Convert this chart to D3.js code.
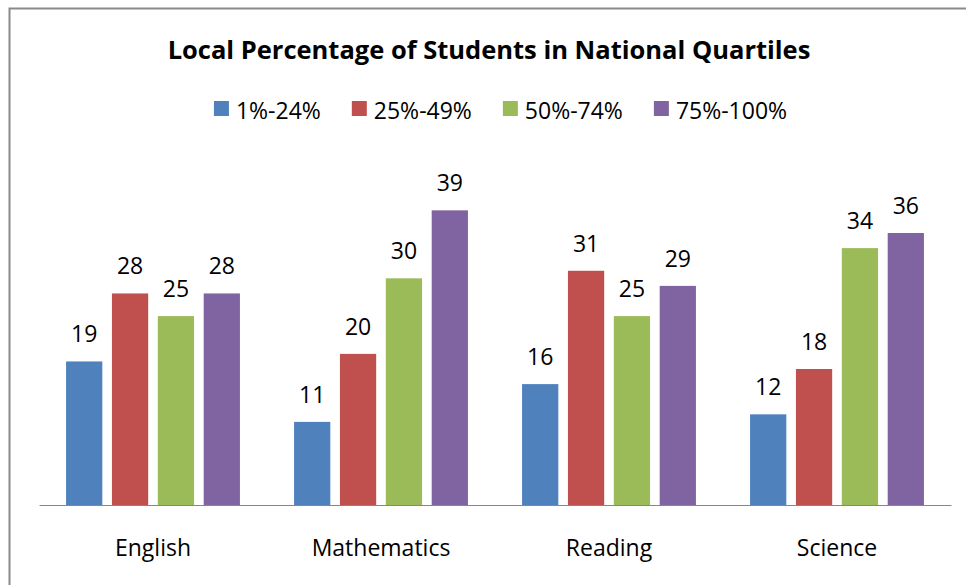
<!DOCTYPE html>
<html>
<head>
<meta charset="utf-8">
<script src="https://cdn.jsdelivr.net/npm/d3@7"></script>
<style>
  html, body { margin: 0; padding: 0; background: #fff; }
  svg { display: block; font-family: "Open Sans", "Noto Sans", sans-serif; }
</style>
</head>
<body>
<svg id="chart"></svg>
<script>
// chart data
var categories = ["English", "Mathematics", "Reading", "Science"];
var series = ["1%-24%", "25%-49%", "50%-74%", "75%-100%"];
var q1 = [19, 11, 16, 12];
var q2 = [28, 20, 31, 18];
var q3 = [25, 30, 25, 34];
var q4 = [28, 39, 29, 36];
var colors = ["#4F81BD", "#C0504D", "#9BBB59", "#8064A2"];
var title = "Local Percentage of Students in National Quartiles";

var width = 966,
    height = 585;

var svg = d3.select("#chart").attr("width", width).attr("height", height);

// outer chart frame (only left and top edges are visible)
svg.append("rect")
  .attr("x", 9.5).attr("y", 8.5)
  .attr("width", 1200).attr("height", 1200)
  .attr("fill", "#fff")
  .attr("stroke", "#8a8a8a")
  .attr("stroke-width", 2);

var rows = [q1, q2, q3, q4];
var table = categories.map(function(c, i) {
  return { cat: c, vals: series.map(function(s, j) { return { s: s, v: rows[j][i], c: colors[j] }; }) };
});

var x0 = d3.scaleBand().domain(categories).range([39, 951]);
var x1 = d3.scaleBand().domain(series).range([0, x0.bandwidth()])
  .paddingInner(0.21).paddingOuter(0.59);
var y = d3.scaleLinear().domain([0, 45]).range([505, 165]);

var groups = svg.selectAll("g.cat").data(table).enter().append("g")
  .attr("class", "cat")
  .attr("transform", function(d) { return "translate(" + x0(d.cat) + ",0)"; });

groups.selectAll("rect").data(function(d) { return d.vals; }).enter().append("rect")
  .attr("x", function(d) { return x1(d.s); })
  .attr("y", function(d) { return y(d.v); })
  .attr("width", x1.bandwidth())
  .attr("height", function(d) { return y(0) - y(d.v); })
  .attr("fill", function(d) { return d.c; });

groups.selectAll("text").data(function(d) { return d.vals; }).enter().append("text")
  .attr("x", function(d) { return x1(d.s) + x1.bandwidth() / 2; })
  .attr("y", function(d) { return y(d.v) - 19; })
  .attr("text-anchor", "middle")
  .attr("font-size", 23)
  .attr("fill", "#000")
  .text(function(d) { return d.v; });

// category axis
var axis = svg.append("g")
  .attr("transform", "translate(0,505)")
  .call(d3.axisBottom(x0).tickSize(0).tickSizeOuter(0));
axis.select(".domain").attr("stroke", "#868686");
axis.selectAll("text")
  .attr("y", 51).attr("dy", 0)
  .attr("font-family", "'Open Sans', 'Noto Sans', sans-serif")
  .attr("font-size", 23)
  .attr("fill", "#000");

// title
svg.append("text")
  .attr("x", 489).attr("y", 59)
  .attr("text-anchor", "middle")
  .attr("font-size", 25.5)
  .attr("font-weight", "bold")
  .attr("fill", "#000")
  .text(title);

// legend
var legend = svg.append("g");
var lx = 0;
series.forEach(function(s, i) {
  var item = legend.append("g").attr("transform", "translate(" + lx + ",0)");
  item.append("rect").attr("x", 0).attr("y", 101).attr("width", 15).attr("height", 15).attr("fill", colors[i]);
  var t = item.append("text").attr("x", 22).attr("y", 119).attr("font-size", 23).attr("fill", "#000").text(s);
  lx += 22 + t.node().getComputedTextLength() + 31;
});
var legendW = lx - 31;
legend.attr("transform", "translate(" + (500.5 - legendW / 2) + ",0)");
</script>
</body>
</html>
